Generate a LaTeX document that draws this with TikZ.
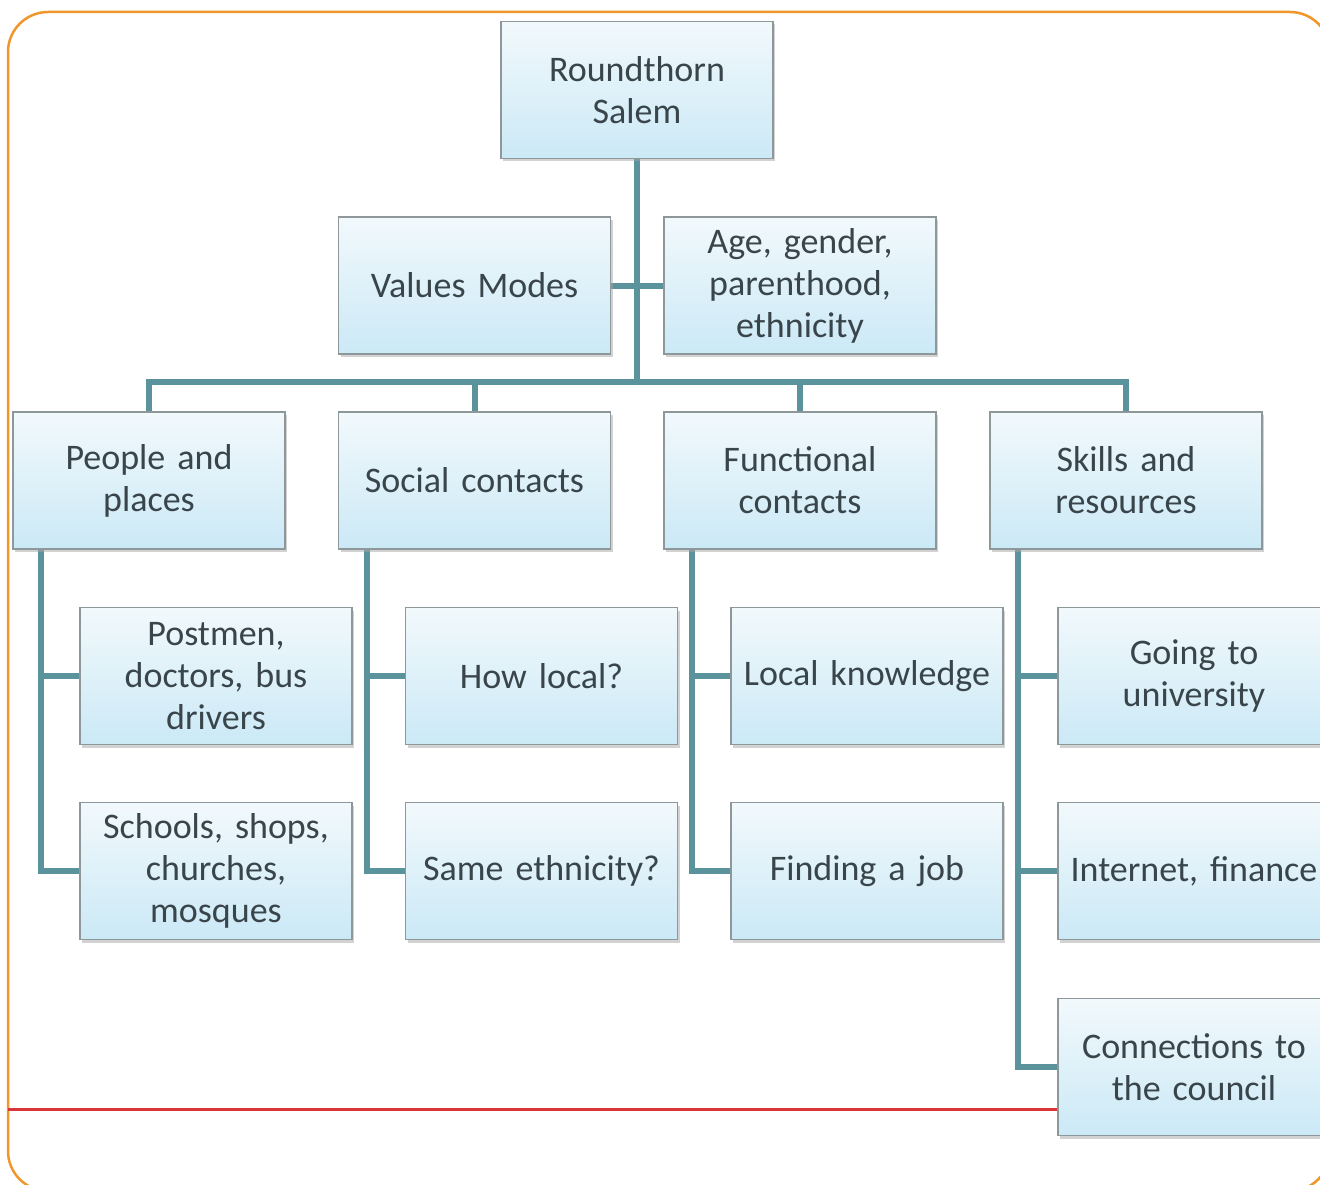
\documentclass[tikz,border=0pt]{standalone}
\usepackage{fontspec}
\setmainfont{Carlito}[WordSpace=0.7]
\usetikzlibrary{shadows}
\pgfdeclarelayer{background}
\pgfsetlayers{background,main}
\definecolor{teal1}{HTML}{5A939C}
\definecolor{boxtop}{HTML}{F2F9FC}
\definecolor{boxbot}{HTML}{CBE9F6}
\definecolor{boxline}{HTML}{8E989A}
\definecolor{txt}{HTML}{39454A}
\definecolor{orng}{HTML}{F0962A}
\definecolor{redl}{HTML}{D8353B}
\tikzset{
  bx/.style={rectangle, draw=boxline, line width=1.6pt, top color=boxtop, bottom color=boxbot,
    minimum width=272pt, minimum height=137pt, text width=268pt, align=center,
    text=txt, font=\fontsize{36}{42}\selectfont, inner sep=0pt,
    drop shadow={shadow xshift=2pt, shadow yshift=-3pt, fill=black!35, opacity=0.5}},
  conn/.style={draw=teal1, line width=6pt},
}
\begin{document}
\begin{tikzpicture}[x=1pt,y=-1pt]
\useasboundingbox (0,0) rectangle (1320,1185);
\clip (0,0) rectangle (1320,1185);
\coordinate (bus) at (637,382);
\coordinate (redstart) at (8,1109);
\path
 (637,90) node[bx] (root) {Roundthorn\\Salem}
 (474.5,285.5) node[bx] (vm) {Values Modes}
 (800,285.5) node[bx] (age) {Age, gender,\\parenthood,\\ethnicity}
 (149,480.5) node[bx] (people) {People and\\places}
 (474.5,480.5) node[bx] (social) {Social contacts}
 (800,480.5) node[bx] (func) {Functional\\contacts}
 (1126,480.5) node[bx] (skills) {Skills and\\resources}
 (216,676) node[bx] (postmen) {Postmen,\\doctors, bus\\drivers}
 (541.5,676) node[bx] (howlocal) {How local?}
 (867,676) node[bx] (localk) {Local knowledge}
 (1194,676) node[bx] (univ) {Going to\\university}
 (216,871) node[bx] (schools) {Schools, shops,\\churches,\\mosques}
 (541.5,871) node[bx] (samee) {Same ethnicity?}
 (867,871) node[bx] (job) {Finding a job}
 (1194,871) node[bx] (inet) {Internet, finance}
 (1194,1067) node[bx] (council) {Connections to\\the council};
\begin{pgfonlayer}{background}
\fill[white] (0,0) rectangle (1320,1185);
\draw[orng, line width=2.5pt, rounded corners=40pt] (8,12) rectangle (1330,1191);
\draw[conn] (root.south) -- (bus);
\draw[conn] (vm.east) -- (age.west);
\draw[conn, line join=miter] (people.north) |- (bus) -| (skills.north);
\draw[conn] (social.north) -- (social.north |- bus);
\draw[conn] (func.north) -- (func.north |- bus);
\foreach \p/\a/\b in {people/postmen/schools, social/howlocal/samee, func/localk/job}{
  \draw[conn, line join=miter] ([xshift=29pt]\p.south west) |- (\b.west);
  \draw[conn] ([xshift=29pt]\p.south west |- \a.west) -- (\a.west);
}
\draw[conn, line join=miter] ([xshift=29pt]skills.south west) |- (council.west);
\draw[conn] ([xshift=29pt]skills.south west |- univ.west) -- (univ.west);
\draw[conn] ([xshift=29pt]skills.south west |- inet.west) -- (inet.west);
\draw[redl, line width=3pt] (redstart) -- (council.west |- redstart);
\end{pgfonlayer}
\end{tikzpicture}
\end{document}
